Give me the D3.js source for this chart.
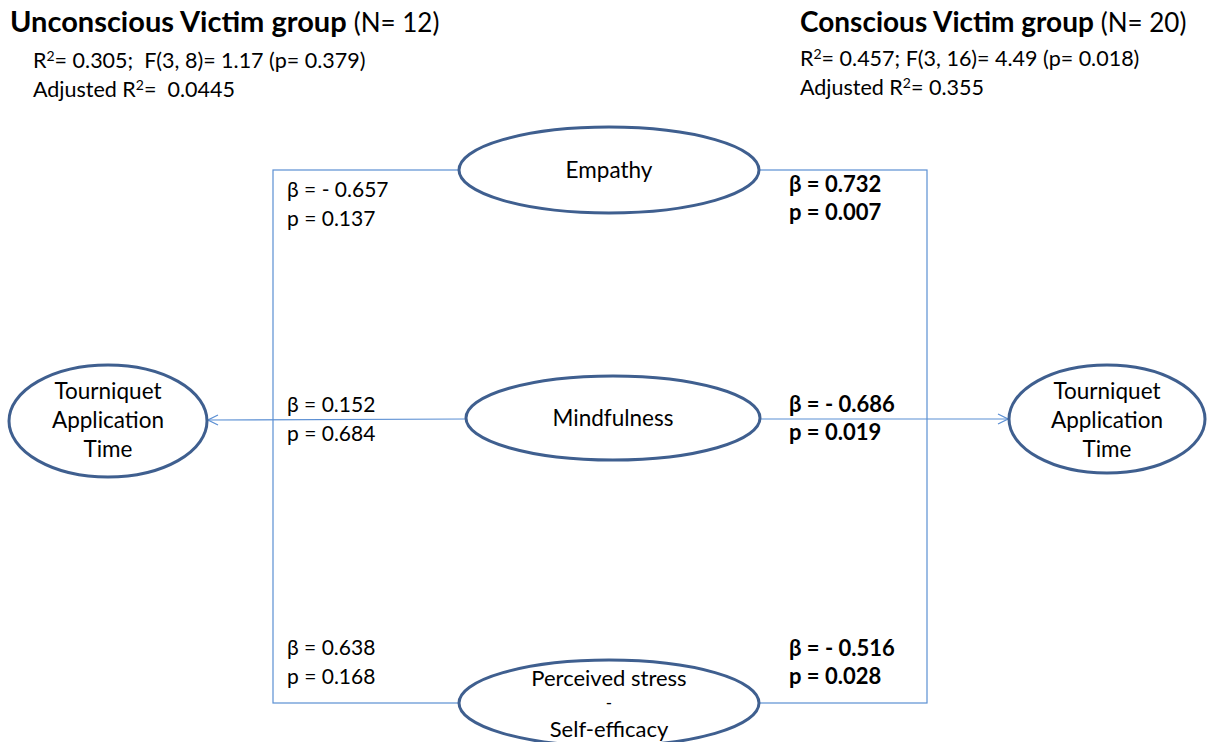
<!DOCTYPE html>
<html><head><meta charset="utf-8">
<script src="https://cdn.jsdelivr.net/npm/d3@7"></script>
<style>body{margin:0;background:#fff}svg{display:block}text{font-family:Lato,"Open Sans",sans-serif;fill:#000;white-space:pre}</style>
</head><body><svg id="c" width="1207" height="742"></svg>
<script>
const groups = [
  {name:"Unconscious Victim group", n:"(N= 12)", r2:"0.305", f:";  F(3, 8)= 1.17 (p= 0.379)", adj:"=  0.0445"},
  {name:"Conscious Victim group", n:"(N= 20)", r2:"0.457", f:"; F(3, 16)= 4.49 (p= 0.018)", adj:"= 0.355"}
];
const predictors = ["Empathy", "Mindfulness", ["Perceived stress","-","Self-efficacy"]];
const betaUnconscious = ["- 0.657", "0.152", "0.638"];
const pUnconscious = ["0.137", "0.684", "0.168"];
const betaConscious = ["0.732", "- 0.686", "- 0.516"];
const pConscious = ["0.007", "0.019", "0.028"];
const outcome = ["Tourniquet","Application","Time"];

const svg = d3.select("#c");
const lineCol = "#5b8fd3", nodeCol = "#3f5f8f";

// headers
const hx = [10, 800], sx = [33, 800], ts = [29, 28];
groups.forEach((g,i)=>{
  const t = svg.append("text").attr("x",hx[i]).attr("y",32).style("font-size",ts[i]+"px");
  t.append("tspan").attr("font-weight","bold").text(g.name+" ");
  t.append("tspan").style("font-size","26px").text(g.n);
  const s = svg.append("text").attr("x",sx[i]).attr("y",i?66:68).style("font-size","21.5px");
  s.append("tspan").text("R");
  s.append("tspan").attr("dy",-7).style("font-size","14px").text("2");
  s.append("tspan").attr("dy",7).text("= "+g.r2+g.f);
  const a = svg.append("text").attr("x",sx[i]).attr("y",i?95:97).style("font-size","21.5px");
  a.append("tspan").text("Adjusted R");
  a.append("tspan").attr("dy",-7).style("font-size","14px").text("2");
  a.append("tspan").attr("dy",7).text(g.adj);
});

const rectL = 273, rectR = 927, rectT = 170, rectB = 703;
svg.append("rect").attr("x",rectL).attr("y",rectT).attr("width",rectR-rectL).attr("height",rectB-rectT)
  .attr("fill","none").attr("stroke",lineCol).attr("stroke-width",1.2);

const defs = svg.append("defs");
defs.append("marker").attr("id","arr").attr("viewBox","0 0 12 12").attr("refX",11).attr("refY",6)
  .attr("markerWidth",12).attr("markerHeight",12).attr("markerUnits","userSpaceOnUse").attr("orient","auto")
  .append("path").attr("d","M1,1 L11,6 L1,11").attr("fill","none").attr("stroke",lineCol).attr("stroke-width",1.2);

svg.append("line").attr("x1",466).attr("y1",419).attr("x2",208).attr("y2",420)
  .attr("stroke",lineCol).attr("stroke-width",1.2).attr("marker-end","url(#arr)");
svg.append("line").attr("x1",760).attr("y1",419).attr("x2",1008).attr("y2",419)
  .attr("stroke",lineCol).attr("stroke-width",1.2).attr("marker-end","url(#arr)");

// predictor nodes
const nodeC = [[609,170,150,43],[613,418,147,42],[609,703,150,43]];
predictors.forEach((p,i)=>{
  const [cx,cy,rx,ry] = nodeC[i];
  svg.append("ellipse").attr("cx",cx).attr("cy",cy).attr("rx",rx).attr("ry",ry)
    .attr("fill","#fff").attr("stroke",nodeCol).attr("stroke-width",3);
  if (Array.isArray(p)) {
    const bl = [686, 709, 737];
    p.forEach((l,j)=> svg.append("text").attr("x",cx).attr("y",bl[j]).attr("text-anchor","middle")
      .style("font-size", j==1?"17px":"22px").text(l));
  } else {
    svg.append("text").attr("x",cx).attr("y",i==0?178:426).attr("text-anchor","middle").style("font-size","22.5px").text(p);
  }
});

// outcome nodes
[[108,421,99,56],[1107,419,98,54]].forEach(([cx,cy,rx,ry])=>{
  svg.append("ellipse").attr("cx",cx).attr("cy",cy).attr("rx",rx).attr("ry",ry)
    .attr("fill","#fff").attr("stroke",nodeCol).attr("stroke-width",3);
  outcome.forEach((l,j)=> svg.append("text").attr("x",cx).attr("y",[399,428,457][j]).attr("text-anchor","middle")
    .style("font-size","22.5px").text(l));
});

// coefficient labels
const by = [197, 412, 655], pyy = [226, 441, 684];
const bcy = [192, 412, 656], pcy = [220, 440, 684];
betaUnconscious.forEach((b,i)=>{
  svg.append("text").attr("x",287).attr("y",by[i]).style("font-size","21px").text("β = "+b);
  svg.append("text").attr("x",287).attr("y",pyy[i]).style("font-size","21px").text("p = "+pUnconscious[i]);
});
betaConscious.forEach((b,i)=>{
  svg.append("text").attr("x",789).attr("y",bcy[i]).style("font-size","22px").attr("font-weight","bold").text("β = "+b);
  svg.append("text").attr("x",789).attr("y",pcy[i]).style("font-size","22px").attr("font-weight","bold").text("p = "+pConscious[i]);
});
</script></body></html>
